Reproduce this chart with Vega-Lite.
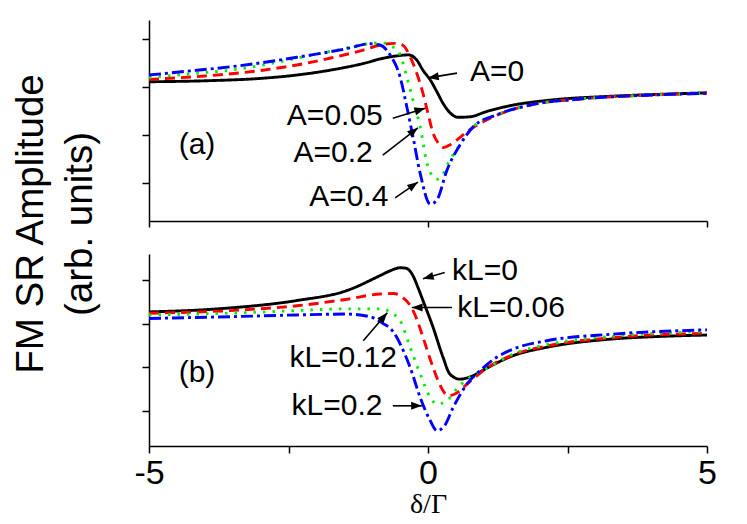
{
  "$schema": "https://vega.github.io/schema/vega-lite/v6.json",
  "background": "white",
  "padding": {"left": 12, "top": 20, "right": 5, "bottom": 0},
  "title": {
    "text": ["FM SR Amplitude", "(arb. units)"],
    "orient": "left",
    "anchor": "middle",
    "font": "Liberation Sans",
    "fontSize": 38.5,
    "fontWeight": "normal",
    "lineHeight": 49,
    "offset": 33,
    "dx": 45,
    "color": "black"
  },
  "config": {
    "view": {"stroke": null},
    "axis": {
      "grid": false,
      "domainColor": "black",
      "tickColor": "black",
      "domainWidth": 1.5,
      "tickWidth": 1.5,
      "tickSize": 7,
      "labelFont": "Liberation Sans",
      "labelColor": "black",
      "titleFont": "Liberation Serif",
      "titleColor": "black"
    },
    "text": {"font": "Liberation Sans", "color": "black"}
  },
  "datasets": {
    "curves": [
      {"panel": "a", "curve": 0, "x": -5, "y": 0.11},
      {"panel": "a", "curve": 0, "x": -4, "y": 0.13},
      {"panel": "a", "curve": 0, "x": -3, "y": 0.18},
      {"panel": "a", "curve": 0, "x": -2.35, "y": 0.25},
      {"panel": "a", "curve": 0, "x": -1.76, "y": 0.35},
      {"panel": "a", "curve": 0, "x": -1.16, "y": 0.49},
      {"panel": "a", "curve": 0, "x": -0.8, "y": 0.6},
      {"panel": "a", "curve": 0, "x": -0.55, "y": 0.65},
      {"panel": "a", "curve": 0, "x": -0.35, "y": 0.67},
      {"panel": "a", "curve": 0, "x": -0.2, "y": 0.56},
      {"panel": "a", "curve": 0, "x": -0.09, "y": 0.35},
      {"panel": "a", "curve": 0, "x": 0.04, "y": 0.15},
      {"panel": "a", "curve": 0, "x": 0.16, "y": -0.1},
      {"panel": "a", "curve": 0, "x": 0.27, "y": -0.34},
      {"panel": "a", "curve": 0, "x": 0.39, "y": -0.53},
      {"panel": "a", "curve": 0, "x": 0.54, "y": -0.63},
      {"panel": "a", "curve": 0, "x": 0.75, "y": -0.62},
      {"panel": "a", "curve": 0, "x": 1.05, "y": -0.51},
      {"panel": "a", "curve": 0, "x": 1.53, "y": -0.375},
      {"panel": "a", "curve": 0, "x": 2.13, "y": -0.28},
      {"panel": "a", "curve": 0, "x": 3.31, "y": -0.19},
      {"panel": "a", "curve": 0, "x": 4.2, "y": -0.15},
      {"panel": "a", "curve": 0, "x": 5, "y": -0.12},

      {"panel": "a", "curve": 1, "x": -5, "y": 0.16},
      {"panel": "a", "curve": 1, "x": -4, "y": 0.23},
      {"panel": "a", "curve": 1, "x": -2.96, "y": 0.35},
      {"panel": "a", "curve": 1, "x": -2.3, "y": 0.47},
      {"panel": "a", "curve": 1, "x": -1.76, "y": 0.6},
      {"panel": "a", "curve": 1, "x": -1.16, "y": 0.77},
      {"panel": "a", "curve": 1, "x": -0.8, "y": 0.89},
      {"panel": "a", "curve": 1, "x": -0.6, "y": 0.91},
      {"panel": "a", "curve": 1, "x": -0.45, "y": 0.87},
      {"panel": "a", "curve": 1, "x": -0.32, "y": 0.63},
      {"panel": "a", "curve": 1, "x": -0.2, "y": 0.28},
      {"panel": "a", "curve": 1, "x": -0.09, "y": -0.13},
      {"panel": "a", "curve": 1, "x": 0, "y": -0.55},
      {"panel": "a", "curve": 1, "x": 0.09, "y": -0.96},
      {"panel": "a", "curve": 1, "x": 0.2, "y": -1.19},
      {"panel": "a", "curve": 1, "x": 0.28, "y": -1.26},
      {"panel": "a", "curve": 1, "x": 0.4, "y": -1.2},
      {"panel": "a", "curve": 1, "x": 0.52, "y": -1.1},
      {"panel": "a", "curve": 1, "x": 0.7, "y": -0.93},
      {"panel": "a", "curve": 1, "x": 1.17, "y": -0.62},
      {"panel": "a", "curve": 1, "x": 1.83, "y": -0.375},
      {"panel": "a", "curve": 1, "x": 2.72, "y": -0.25},
      {"panel": "a", "curve": 1, "x": 3.92, "y": -0.17},
      {"panel": "a", "curve": 1, "x": 5, "y": -0.13},

      {"panel": "a", "curve": 2, "x": -5, "y": 0.2},
      {"panel": "a", "curve": 2, "x": -4.2, "y": 0.28},
      {"panel": "a", "curve": 2, "x": -3.55, "y": 0.35},
      {"panel": "a", "curve": 2, "x": -2.9, "y": 0.47},
      {"panel": "a", "curve": 2, "x": -2.35, "y": 0.6},
      {"panel": "a", "curve": 2, "x": -1.63, "y": 0.77},
      {"panel": "a", "curve": 2, "x": -1.0, "y": 0.91},
      {"panel": "a", "curve": 2, "x": -0.8, "y": 0.92},
      {"panel": "a", "curve": 2, "x": -0.65, "y": 0.85},
      {"panel": "a", "curve": 2, "x": -0.5, "y": 0.67},
      {"panel": "a", "curve": 2, "x": -0.38, "y": 0.21},
      {"panel": "a", "curve": 2, "x": -0.27, "y": -0.27},
      {"panel": "a", "curve": 2, "x": -0.14, "y": -0.83},
      {"panel": "a", "curve": 2, "x": 0, "y": -1.66},
      {"panel": "a", "curve": 2, "x": 0.16, "y": -1.92},
      {"panel": "a", "curve": 2, "x": 0.26, "y": -1.83},
      {"panel": "a", "curve": 2, "x": 0.36, "y": -1.59},
      {"panel": "a", "curve": 2, "x": 0.57, "y": -1.21},
      {"panel": "a", "curve": 2, "x": 0.81, "y": -0.83},
      {"panel": "a", "curve": 2, "x": 1.23, "y": -0.58},
      {"panel": "a", "curve": 2, "x": 1.83, "y": -0.375},
      {"panel": "a", "curve": 2, "x": 2.72, "y": -0.25},
      {"panel": "a", "curve": 2, "x": 3.92, "y": -0.17},
      {"panel": "a", "curve": 2, "x": 5, "y": -0.13},

      {"panel": "a", "curve": 3, "x": -5, "y": 0.25},
      {"panel": "a", "curve": 3, "x": -4.14, "y": 0.35},
      {"panel": "a", "curve": 3, "x": -3.55, "y": 0.42},
      {"panel": "a", "curve": 3, "x": -2.96, "y": 0.51},
      {"panel": "a", "curve": 3, "x": -2.35, "y": 0.62},
      {"panel": "a", "curve": 3, "x": -1.45, "y": 0.8},
      {"panel": "a", "curve": 3, "x": -1.04, "y": 0.9},
      {"panel": "a", "curve": 3, "x": -0.86, "y": 0.875},
      {"panel": "a", "curve": 3, "x": -0.68, "y": 0.67},
      {"panel": "a", "curve": 3, "x": -0.5, "y": 0.21},
      {"panel": "a", "curve": 3, "x": -0.38, "y": -0.41},
      {"panel": "a", "curve": 3, "x": -0.27, "y": -1.03},
      {"panel": "a", "curve": 3, "x": -0.14, "y": -1.8},
      {"panel": "a", "curve": 3, "x": 0.04, "y": -2.44},
      {"panel": "a", "curve": 3, "x": 0.16, "y": -2.35},
      {"panel": "a", "curve": 3, "x": 0.34, "y": -1.73},
      {"panel": "a", "curve": 3, "x": 0.57, "y": -1.21},
      {"panel": "a", "curve": 3, "x": 0.81, "y": -0.83},
      {"panel": "a", "curve": 3, "x": 1.23, "y": -0.58},
      {"panel": "a", "curve": 3, "x": 1.83, "y": -0.375},
      {"panel": "a", "curve": 3, "x": 2.72, "y": -0.25},
      {"panel": "a", "curve": 3, "x": 3.92, "y": -0.17},
      {"panel": "a", "curve": 3, "x": 5, "y": -0.13},

      {"panel": "b", "curve": 0, "x": -5, "y": 0.27},
      {"panel": "b", "curve": 0, "x": -4, "y": 0.32},
      {"panel": "b", "curve": 0, "x": -3.55, "y": 0.36},
      {"panel": "b", "curve": 0, "x": -2.35, "y": 0.53},
      {"panel": "b", "curve": 0, "x": -1.45, "y": 0.76},
      {"panel": "b", "curve": 0, "x": -0.86, "y": 1.1},
      {"panel": "b", "curve": 0, "x": -0.68, "y": 1.21},
      {"panel": "b", "curve": 0, "x": -0.5, "y": 1.28},
      {"panel": "b", "curve": 0, "x": -0.4, "y": 1.27},
      {"panel": "b", "curve": 0, "x": -0.32, "y": 1.2},
      {"panel": "b", "curve": 0, "x": -0.27, "y": 1.1},
      {"panel": "b", "curve": 0, "x": -0.18, "y": 0.83},
      {"panel": "b", "curve": 0, "x": -0.09, "y": 0.53},
      {"panel": "b", "curve": 0, "x": 0.09, "y": -0.08},
      {"panel": "b", "curve": 0, "x": 0.27, "y": -0.77},
      {"panel": "b", "curve": 0, "x": 0.39, "y": -1.15},
      {"panel": "b", "curve": 0, "x": 0.57, "y": -1.27},
      {"panel": "b", "curve": 0, "x": 0.81, "y": -1.19},
      {"panel": "b", "curve": 0, "x": 1.05, "y": -1.02},
      {"panel": "b", "curve": 0, "x": 1.53, "y": -0.73},
      {"panel": "b", "curve": 0, "x": 2.13, "y": -0.54},
      {"panel": "b", "curve": 0, "x": 3.31, "y": -0.35},
      {"panel": "b", "curve": 0, "x": 4.2, "y": -0.29},
      {"panel": "b", "curve": 0, "x": 5, "y": -0.26},

      {"panel": "b", "curve": 1, "x": -5, "y": 0.24},
      {"panel": "b", "curve": 1, "x": -3.55, "y": 0.3},
      {"panel": "b", "curve": 1, "x": -2.35, "y": 0.41},
      {"panel": "b", "curve": 1, "x": -1.45, "y": 0.56},
      {"panel": "b", "curve": 1, "x": -0.86, "y": 0.68},
      {"panel": "b", "curve": 1, "x": -0.62, "y": 0.69},
      {"panel": "b", "curve": 1, "x": -0.45, "y": 0.6},
      {"panel": "b", "curve": 1, "x": -0.3, "y": 0.38},
      {"panel": "b", "curve": 1, "x": -0.2, "y": 0.1},
      {"panel": "b", "curve": 1, "x": -0.09, "y": -0.31},
      {"panel": "b", "curve": 1, "x": 0.09, "y": -1.0},
      {"panel": "b", "curve": 1, "x": 0.25, "y": -1.49},
      {"panel": "b", "curve": 1, "x": 0.36, "y": -1.65},
      {"panel": "b", "curve": 1, "x": 0.5, "y": -1.6},
      {"panel": "b", "curve": 1, "x": 0.63, "y": -1.46},
      {"panel": "b", "curve": 1, "x": 1.05, "y": -1.02},
      {"panel": "b", "curve": 1, "x": 1.53, "y": -0.71},
      {"panel": "b", "curve": 1, "x": 2.13, "y": -0.51},
      {"panel": "b", "curve": 1, "x": 3.31, "y": -0.32},
      {"panel": "b", "curve": 1, "x": 5, "y": -0.22},

      {"panel": "b", "curve": 2, "x": -5, "y": 0.2},
      {"panel": "b", "curve": 2, "x": -3.55, "y": 0.24},
      {"panel": "b", "curve": 2, "x": -2.35, "y": 0.3},
      {"panel": "b", "curve": 2, "x": -1.45, "y": 0.34},
      {"panel": "b", "curve": 2, "x": -0.8, "y": 0.34},
      {"panel": "b", "curve": 2, "x": -0.68, "y": 0.26},
      {"panel": "b", "curve": 2, "x": -0.5, "y": 0.07},
      {"panel": "b", "curve": 2, "x": -0.32, "y": -0.54},
      {"panel": "b", "curve": 2, "x": -0.14, "y": -1.15},
      {"panel": "b", "curve": 2, "x": 0.04, "y": -1.69},
      {"panel": "b", "curve": 2, "x": 0.16, "y": -1.84},
      {"panel": "b", "curve": 2, "x": 0.34, "y": -1.76},
      {"panel": "b", "curve": 2, "x": 0.54, "y": -1.46},
      {"panel": "b", "curve": 2, "x": 0.75, "y": -1.23},
      {"panel": "b", "curve": 2, "x": 1.05, "y": -1.02},
      {"panel": "b", "curve": 2, "x": 1.53, "y": -0.69},
      {"panel": "b", "curve": 2, "x": 2.13, "y": -0.48},
      {"panel": "b", "curve": 2, "x": 3.31, "y": -0.29},
      {"panel": "b", "curve": 2, "x": 5, "y": -0.18},

      {"panel": "b", "curve": 3, "x": -5, "y": 0.12},
      {"panel": "b", "curve": 3, "x": -3.55, "y": 0.16},
      {"panel": "b", "curve": 3, "x": -2.35, "y": 0.2},
      {"panel": "b", "curve": 3, "x": -1.45, "y": 0.22},
      {"panel": "b", "curve": 3, "x": -1.04, "y": 0.16},
      {"panel": "b", "curve": 3, "x": -0.8, "y": 0.0},
      {"panel": "b", "curve": 3, "x": -0.68, "y": -0.1},
      {"panel": "b", "curve": 3, "x": -0.56, "y": -0.31},
      {"panel": "b", "curve": 3, "x": -0.5, "y": -0.46},
      {"panel": "b", "curve": 3, "x": -0.32, "y": -1.0},
      {"panel": "b", "curve": 3, "x": -0.14, "y": -1.69},
      {"panel": "b", "curve": 3, "x": 0.04, "y": -2.22},
      {"panel": "b", "curve": 3, "x": 0.16, "y": -2.45},
      {"panel": "b", "curve": 3, "x": 0.3, "y": -2.33},
      {"panel": "b", "curve": 3, "x": 0.45, "y": -1.92},
      {"panel": "b", "curve": 3, "x": 0.7, "y": -1.38},
      {"panel": "b", "curve": 3, "x": 0.93, "y": -1.08},
      {"panel": "b", "curve": 3, "x": 1.23, "y": -0.77},
      {"panel": "b", "curve": 3, "x": 1.53, "y": -0.58},
      {"panel": "b", "curve": 3, "x": 2.13, "y": -0.39},
      {"panel": "b", "curve": 3, "x": 3.31, "y": -0.24},
      {"panel": "b", "curve": 3, "x": 5, "y": -0.14}
    ],
    "labels": [
      {"panel": "a", "text": "A=0", "x": 1.24, "y": 0.31},
      {"panel": "a", "text": "A=0.05", "x": -1.67, "y": -0.6},
      {"panel": "a", "text": "A=0.2", "x": -1.7, "y": -1.375},
      {"panel": "a", "text": "A=0.4", "x": -1.42, "y": -2.29},
      {"panel": "a", "text": "(a)", "x": -4.14, "y": -1.21},
      {"panel": "b", "text": "kL=0", "x": 1.02, "y": 1.21},
      {"panel": "b", "text": "kL=0.06", "x": 1.49, "y": 0.37},
      {"panel": "b", "text": "kL=0.12", "x": -1.52, "y": -0.78},
      {"panel": "b", "text": "kL=0.2", "x": -1.63, "y": -1.88},
      {"panel": "b", "text": "(b)", "x": -4.14, "y": -1.12}
    ],
    "arrows": [
      {"panel": "a", "x": 0, "y": 0.19, "tx": 0.52, "ty": 0.29},
      {"panel": "a", "x": -0.05, "y": -0.44, "tx": -0.63, "ty": -0.65},
      {"panel": "a", "x": -0.18, "y": -0.85, "tx": -0.81, "ty": -1.42},
      {"panel": "a", "x": -0.18, "y": -1.98, "tx": -0.59, "ty": -2.31},
      {"panel": "b", "x": -0.09, "y": 1.03, "tx": 0.3, "ty": 1.17},
      {"panel": "b", "x": -0.29, "y": 0.37, "tx": 0.43, "ty": 0.37},
      {"panel": "b", "x": -0.73, "y": 0.25, "tx": -1.16, "ty": -0.39},
      {"panel": "b", "x": -0.11, "y": -1.88, "tx": -0.63, "ty": -1.88}
    ]
  },
  "resolve": {"scale": {"y": "independent"}},
  "spacing": 26,
  "vconcat": [
    {
      "width": 558,
      "height": 201,
      "encoding": {
        "x": {"field": "x", "type": "quantitative",
              "scale": {"domain": [-5, 5], "nice": false, "zero": false},
              "axis": {"values": [-5, 0, 5], "labels": false, "title": null, "tickSize": 6}},
        "y": {"field": "y", "type": "quantitative",
              "scale": {"domain": [-2.79, 1.396], "nice": false, "zero": false},
              "axis": {"values": [1, 0, -1, -2], "labels": false, "title": null}}
      },
      "layer": [
        {
          "data": {"name": "curves"},
          "transform": [{"filter": "datum.panel == 'a'"}],
          "mark": {"type": "line", "interpolate": "monotone", "strokeWidth": 2.9},
          "encoding": {
            "color": {"field": "curve", "type": "nominal",
                      "scale": {"domain": [0, 1, 2, 3], "range": ["#000000", "#ff0000", "#00ee00", "#0000ff"]}, "legend": null},
            "strokeDash": {"field": "curve", "type": "nominal",
                           "scale": {"domain": [0, 1, 2, 3], "range": [[1, 0], [10, 6], [2.5, 7], [12, 4, 3, 4]]}, "legend": null}
          }
        },
        {
          "data": {"name": "arrows"},
          "transform": [{"filter": "datum.panel == 'a'"}],
          "mark": {"type": "rule", "color": "black", "strokeWidth": 1.6},
          "encoding": {"x2": {"field": "tx"}, "y2": {"field": "ty"}}
        },
        {
          "data": {"name": "arrows"},
          "transform": [
            {"filter": "datum.panel == 'a'"},
            {"calculate": "atan2(-(datum.y - datum.ty) * 48, (datum.x - datum.tx) * 55.8) * 180 / PI", "as": "ang"}
          ],
          "mark": {"type": "point", "shape": "M0,0L-2.4,-0.9L-2.4,0.9Z", "filled": true, "size": 80, "color": "black", "opacity": 1},
          "encoding": {"angle": {"field": "ang", "type": "quantitative", "scale": null}}
        },
        {
          "data": {"name": "labels"},
          "transform": [{"filter": "datum.panel == 'a'"}],
          "mark": {"type": "text", "fontSize": 30, "align": "center", "baseline": "middle"},
          "encoding": {"text": {"field": "text"}}
        }
      ]
    },
    {
      "width": 558,
      "height": 192,
      "encoding": {
        "x": {"field": "x", "type": "quantitative",
              "scale": {"domain": [-5, 5], "nice": false, "zero": false},
              "axis": {"values": [-5, -2.5, 0, 2.5, 5], "tickSize": 7,
                       "labelExpr": "datum.value % 5 === 0 ? '' + datum.value : ''",
                       "labelFontSize": 34, "labelPadding": 3, "labelFlush": false,
                       "title": "δ/Γ", "titleFontSize": 28, "titleFontWeight": "normal", "titlePadding": 0}},
        "y": {"field": "y", "type": "quantitative",
              "scale": {"domain": [-2.8, 1.595], "nice": false, "zero": false},
              "axis": {"values": [1, 0, -1, -2], "labels": false, "title": null}}
      },
      "layer": [
        {
          "data": {"name": "curves"},
          "transform": [{"filter": "datum.panel == 'b'"}],
          "mark": {"type": "line", "interpolate": "monotone", "strokeWidth": 2.9},
          "encoding": {
            "color": {"field": "curve", "type": "nominal",
                      "scale": {"domain": [0, 1, 2, 3], "range": ["#000000", "#ff0000", "#00ee00", "#0000ff"]}, "legend": null},
            "strokeDash": {"field": "curve", "type": "nominal",
                           "scale": {"domain": [0, 1, 2, 3], "range": [[1, 0], [10, 6], [2.5, 7], [12, 4, 3, 4]]}, "legend": null}
          }
        },
        {
          "data": {"name": "arrows"},
          "transform": [{"filter": "datum.panel == 'b'"}],
          "mark": {"type": "rule", "color": "black", "strokeWidth": 1.6},
          "encoding": {"x2": {"field": "tx"}, "y2": {"field": "ty"}}
        },
        {
          "data": {"name": "arrows"},
          "transform": [
            {"filter": "datum.panel == 'b'"},
            {"calculate": "atan2(-(datum.y - datum.ty) * 43.7, (datum.x - datum.tx) * 55.8) * 180 / PI", "as": "ang"}
          ],
          "mark": {"type": "point", "shape": "M0,0L-2.4,-0.9L-2.4,0.9Z", "filled": true, "size": 80, "color": "black", "opacity": 1},
          "encoding": {"angle": {"field": "ang", "type": "quantitative", "scale": null}}
        },
        {
          "data": {"name": "labels"},
          "transform": [{"filter": "datum.panel == 'b'"}],
          "mark": {"type": "text", "fontSize": 30, "align": "center", "baseline": "middle"},
          "encoding": {"text": {"field": "text"}}
        }
      ]
    }
  ]
}
